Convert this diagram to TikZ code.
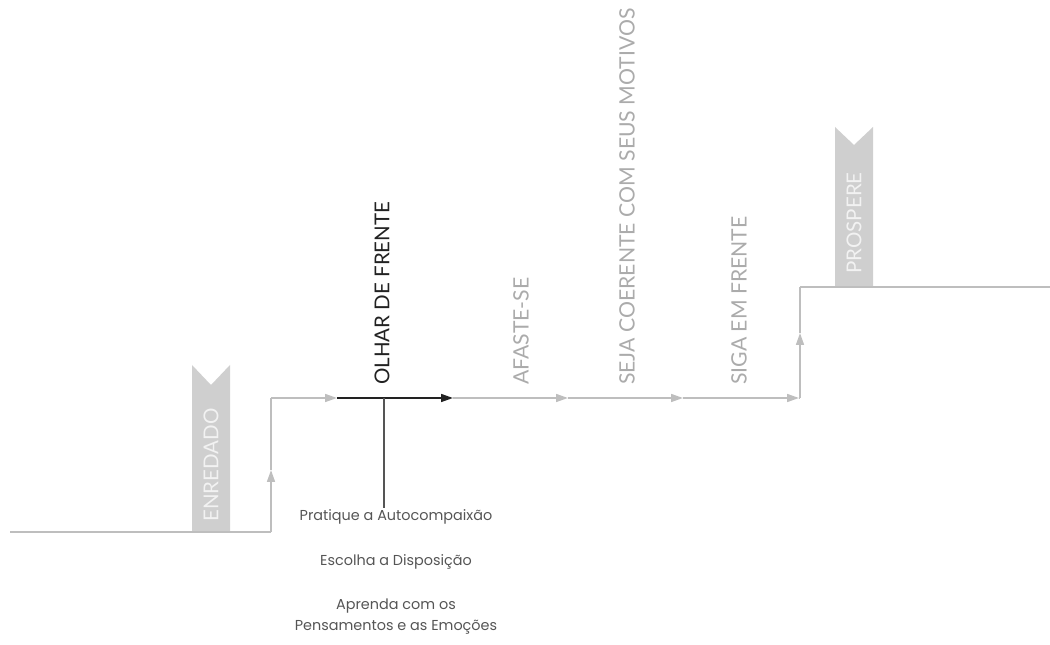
\documentclass[tikz,border=0pt]{standalone}
\usepackage{fontspec}
\setmainfont{Lato}
\newfontfamily\bodyfont{Poppins}
\usetikzlibrary{arrows.meta}
\definecolor{ln}{HTML}{BEBEBE}
\definecolor{lbl}{HTML}{ABABAB}
\definecolor{bfill}{HTML}{CFCFCF}
\definecolor{btext}{HTML}{F2F2F2}
\definecolor{dark}{HTML}{222222}
\definecolor{body}{HTML}{555555}
\tikzset{
  path/.style={draw=ln, line width=1.6pt},
  darkpath/.style={draw=dark, line width=1.6pt},
  gtip/.style={-{Triangle[length=12pt,width=8pt]}},
  steplabel/.style={rotate=90, anchor=west, inner sep=0pt, text=lbl, font=\fontsize{21.2}{24}\selectfont},
  bannertext/.style={rotate=90, inner sep=0pt, text=btext, font=\fontsize{20.5}{24}\selectfont},
  bodytext/.style={text=body, align=center, inner sep=0pt, font=\bodyfont\fontsize{14.4}{21}\selectfont},
  banner/.style={fill=bfill}
}
\begin{document}
\begin{tikzpicture}[x=1pt,y=1pt]
\useasboundingbox (0,0) rectangle (1050,645);
% banners
\fill[banner] (192,113) -- (192,280) -- (211,260) -- (230,280) -- (230,113) -- cycle;
\fill[banner] (835,358) -- (835,518) -- (854,500) -- (873,518) -- (873,358) -- cycle;
\node[bannertext] (enr) at (211,180) {ENREDADO};
\node[bannertext] (pro) at (854,422) {PROSPERE};
% coordinates of the path
\coordinate (s) at (10,113);
\coordinate (c1) at (271,113);
\coordinate (a1) at (271,175);
\coordinate (c2) at (271,247);
\coordinate (a2) at (337,247);
\coordinate (a3) at (453,247);
\coordinate (a4) at (568,247);
\coordinate (a5) at (683,247);
\coordinate (a6) at (799,247);
\coordinate (c3) at (800,247);
\coordinate (a7) at (800,312);
\coordinate (c4) at (800,358);
\coordinate (e) at (1050,358);
\coordinate (j) at (384,247);
\coordinate (jb) at (384,137);
% path
\draw[path] (s) -- (c1);
\draw[path, gtip] (c1) -- (a1);
\draw[path] (a1) -- (c2);
\draw[path, gtip] (c2) -- (a2);
\draw[darkpath, -{Triangle[length=12pt,width=8pt]}] (a2) -- (a3);
\draw[path, gtip] (a3) -- (a4);
\draw[path, gtip] (a4) -- (a5);
\draw[path, gtip] (a5) -- (a6);
\draw[path] (a6) -- (c3);
\draw[path, gtip] (c3) -- (a7);
\draw[path] (a7) -- (c4);
\draw[path] (c4) -- (e);
\draw[draw=body, line width=1.6pt] (j) -- (jb);
% step labels
\node[steplabel, text=dark, font=\fontsize{20.5}{24}\selectfont] (olhar) at (382,260) {OLHAR DE FRENTE};
\node[steplabel] (afaste) at (521,260) {AFASTE-SE};
\node[steplabel] (seja) at (627,260) {SEJA COERENTE COM SEUS MOTIVOS};
\node[steplabel] (siga) at (739,260) {SIGA EM FRENTE};
% bottom texts
\node[bodytext] (t1) at (396,128) {Pratique a Autocompaixão};
\node[bodytext] (t2) at (396,83) {Escolha a Disposição};
\node[bodytext] (t3) at (396,28) {Aprenda com os\\Pensamentos e as Emoções};
\end{tikzpicture}
\end{document}
